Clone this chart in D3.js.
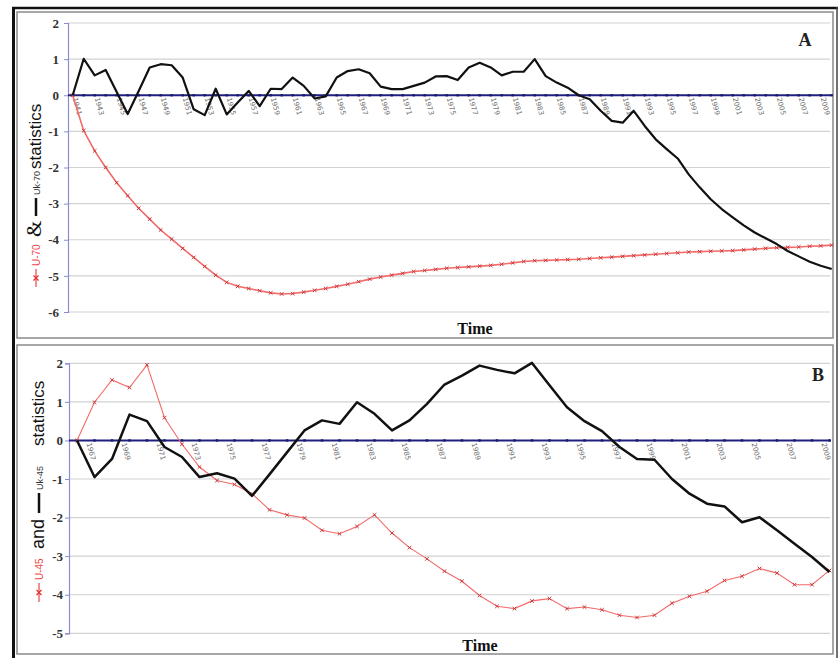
<!DOCTYPE html>
<html>
<head>
<meta charset="utf-8">
<script src="https://cdn.jsdelivr.net/npm/d3@7"></script>
<style>
  html, body { margin: 0; padding: 0; background: #fff; }
  svg { display: block; }
</style>
</head>
<body>
<svg id="chart" width="838" height="658"></svg>
<script>
// ---- Panel A: 1941-2010 ----
const yearsA = d3.range(1941, 2011);
const ukA = [0, 1.01, 0.55, 0.70, 0.09, -0.52, 0.12, 0.77, 0.86, 0.83,
  0.49, -0.39, -0.55, 0.18, -0.53, -0.20, 0.12, -0.30, 0.18, 0.17,
  0.49, 0.26, -0.09, -0.03, 0.49, 0.67, 0.72, 0.61, 0.24, 0.17,
  0.17, 0.26, 0.35, 0.52, 0.53, 0.42, 0.77, 0.90, 0.77, 0.55,
  0.65, 0.65, 1.00, 0.53, 0.35, 0.21, 0.00, -0.11, -0.43, -0.71,
  -0.76, -0.43, -0.85, -1.22, -1.49, -1.75, -2.19, -2.55, -2.88, -3.15,
  -3.38, -3.60, -3.80, -3.96, -4.12, -4.31, -4.46, -4.61, -4.72, -4.81];
const uA = [0, -0.98, -1.54, -2.00, -2.42, -2.78, -3.13, -3.43, -3.73, -3.98,
  -4.24, -4.49, -4.74, -4.98, -5.18, -5.29, -5.35, -5.41, -5.47, -5.50,
  -5.49, -5.45, -5.40, -5.35, -5.29, -5.23, -5.16, -5.09, -5.03, -4.98,
  -4.93, -4.88, -4.85, -4.82, -4.79, -4.77, -4.75, -4.73, -4.71, -4.68,
  -4.64, -4.60, -4.58, -4.57, -4.56, -4.55, -4.54, -4.52, -4.50, -4.48,
  -4.46, -4.44, -4.42, -4.40, -4.38, -4.36, -4.34, -4.33, -4.32, -4.31,
  -4.30, -4.28, -4.26, -4.24, -4.22, -4.21, -4.20, -4.18, -4.17, -4.15];
const yTicksA = [2, 1, 0, -1, -2, -3, -4, -5, -6];
const xLabelsA = yearsA.filter(y => y % 2 === 1);

// ---- Panel B: 1966-2009 ----
const yearsB = d3.range(1966, 2010);
const ukB = [0, -0.95, -0.48, 0.67, 0.50, -0.17, -0.43, -0.95, -0.85, -0.99,
  -1.44, -0.88, -0.31, 0.26, 0.52, 0.43, 0.99, 0.69, 0.26, 0.52,
  0.95, 1.45, 1.68, 1.94, 1.83, 1.74, 2.01, 1.43, 0.86, 0.50,
  0.24, -0.17, -0.48, -0.50, -1.00, -1.38, -1.64, -1.71, -2.12, -1.99,
  -2.33, -2.68, -3.02, -3.41];
const uB = [0, 0.99, 1.57, 1.37, 1.96, 0.59, -0.10, -0.69, -1.04, -1.14,
  -1.38, -1.80, -1.93, -2.01, -2.33, -2.42, -2.23, -1.93, -2.40, -2.78,
  -3.07, -3.39, -3.65, -4.02, -4.30, -4.36, -4.16, -4.10, -4.36, -4.32,
  -4.39, -4.53, -4.59, -4.53, -4.22, -4.04, -3.91, -3.63, -3.52, -3.32,
  -3.44, -3.74, -3.74, -3.37];
const yTicksB = [2, 1, 0, -1, -2, -3, -4, -5];
const xLabelsB = yearsB.filter(y => y % 2 === 1);

const svg = d3.select("#chart");

// outer frame
svg.append("rect").attr("x", 0).attr("y", 0).attr("width", 838).attr("height", 658).attr("fill", "#fff");
svg.append("line").attr("x1", 12).attr("x2", 838).attr("y1", 8).attr("y2", 8)
  .attr("stroke", "#111").attr("stroke-width", 2.5);
svg.append("line").attr("x1", 13.5).attr("x2", 13.5).attr("y1", 7).attr("y2", 658)
  .attr("stroke", "#111").attr("stroke-width", 3);
svg.append("line").attr("x1", 837).attr("x2", 837).attr("y1", 7).attr("y2", 658)
  .attr("stroke", "#444").attr("stroke-width", 1.5);

function panel(cfg) {
  const g = svg.append("g");
  g.append("rect").attr("x", cfg.box[0]).attr("y", cfg.box[1])
    .attr("width", cfg.box[2] - cfg.box[0]).attr("height", cfg.box[3] - cfg.box[1])
    .attr("fill", "#fff").attr("stroke", "#8a8a8a").attr("stroke-width", 1.5);

  const x = d3.scaleLinear().domain(cfg.xDomain).range(cfg.xRange);
  const y = d3.scaleLinear().domain(cfg.yDomain).range(cfg.yRange);
  const left = cfg.axisX, right = 830;

  // horizontal gridlines
  g.append("g").selectAll("line").data(cfg.yTicks.filter(t => t !== 0)).join("line")
    .attr("x1", left).attr("x2", right)
    .attr("y1", d => y(d)).attr("y2", d => y(d))
    .attr("stroke", "#d2d2d2").attr("stroke-width", 1.2);

  // y axis (plain hyphen for negatives)
  const yAxis = d3.axisLeft(y).tickValues(cfg.yTicks).tickSize(4).tickFormat(d => String(d));
  const ya = g.append("g").attr("transform", `translate(${left},0)`).call(yAxis);
  ya.select(".domain").attr("stroke", "#8c8cd0").attr("stroke-width", 1.2);
  ya.selectAll(".tick line").attr("stroke", "#8c8cd0");
  ya.selectAll(".tick text")
    .attr("font-family", "Liberation Serif, serif").attr("font-weight", "bold")
    .attr("font-size", 13).attr("fill", "#333").attr("x", cfg.tickTextX);

  // zero line with dot markers
  g.append("line").attr("x1", left).attr("x2", right + 1)
    .attr("y1", y(0)).attr("y2", y(0)).attr("stroke", "#1f1f80").attr("stroke-width", 2);
  g.append("g").selectAll("rect").data(cfg.years).join("rect")
    .attr("x", d => x(d) - 1.2).attr("y", y(0) - 1.2).attr("width", 2.4).attr("height", 2.4)
    .attr("fill", "#1a1a70");

  // rotated year labels along the zero line
  g.append("g").selectAll("text").data(cfg.xLabels).join("text")
    .attr("transform", d => `translate(${x(d) + cfg.labelDx},${y(0) + 3}) rotate(75)`)
    .attr("font-family", "DejaVu Sans, sans-serif").attr("font-size", 7)
    .attr("fill", "#707070").text(d => d);

  // red series
  const line = d3.line().x((d, i) => x(cfg.years[i])).y(d => y(d));
  g.append("path").datum(cfg.red).attr("d", line).attr("fill", "none")
    .attr("stroke", "#f26a6a").attr("stroke-width", cfg.redWidth);
  g.append("g").selectAll("path").data(cfg.red).join("path")
    .attr("d", (d, i) => {
      const cx = x(cfg.years[i]), cy = y(d), r = 1.8;
      return `M${cx - r},${cy - r}L${cx + r},${cy + r}M${cx - r},${cy + r}L${cx + r},${cy - r}`;
    })
    .attr("stroke", "#c83a3a").attr("stroke-width", 1);

  // black series
  g.append("path").datum(cfg.black).attr("d", line).attr("fill", "none")
    .attr("stroke", "#111").attr("stroke-width", cfg.blackWidth).attr("stroke-linejoin", "round");

  // panel letter
  g.append("text").attr("x", cfg.letterPos[0]).attr("y", cfg.letterPos[1])
    .attr("text-anchor", "middle").attr("font-family", "Liberation Serif, serif")
    .attr("font-weight", "bold").attr("font-size", 18).attr("fill", "#222").text(cfg.letter);

  // x title
  g.append("text").attr("x", cfg.timePos[0]).attr("y", cfg.timePos[1])
    .attr("text-anchor", "middle").attr("font-family", "Liberation Serif, serif")
    .attr("font-weight", "bold").attr("font-size", 16).attr("fill", "#111").text("Time");

  // y title with inline legend symbols (rotated, reading bottom to top)
  const t = g.append("g").attr("transform", `translate(${cfg.titleOrigin[0]},${cfg.titleOrigin[1]}) rotate(-90)`);
  const L = cfg.titleLayout;
  t.append("line").attr("x1", L.redSym[0]).attr("x2", L.redSym[1]).attr("y1", -5).attr("y2", -5)
    .attr("stroke", "#f26a6a").attr("stroke-width", 1.5);
  const mx = (L.redSym[0] + L.redSym[1]) / 2;
  t.append("path").attr("d", `M${mx - 2.5},-7.5L${mx + 2.5},-2.5M${mx - 2.5},-2.5L${mx + 2.5},-7.5`)
    .attr("stroke", "#e03030").attr("stroke-width", 1.2);
  t.append("text").attr("x", L.redText).attr("y", -1)
    .attr("font-family", "Liberation Sans, sans-serif").attr("font-size", 10)
    .attr("fill", "#f04848").text(cfg.redName);
  t.append("text").attr("x", L.conj).attr("y", 0)
    .attr("font-family", cfg.conjFont).attr("font-size", cfg.conjSize)
    .attr("fill", "#111").text(cfg.conj);
  t.append("line").attr("x1", L.blackSym[0]).attr("x2", L.blackSym[1]).attr("y1", -5).attr("y2", -5)
    .attr("stroke", "#111").attr("stroke-width", 2.5);
  t.append("text").attr("x", L.blackText).attr("y", -1)
    .attr("font-family", "Liberation Sans, sans-serif").attr("font-size", 9)
    .attr("fill", "#333").text(cfg.blackName);
  t.append("text").attr("x", L.stat).attr("y", 0)
    .attr("font-family", "Liberation Sans, sans-serif").attr("font-size", 17)
    .attr("fill", "#111").text("statistics");
}

panel({
  box: [17, 12, 833, 338],
  xDomain: [1941, 2010], xRange: [72.7, 831.7],
  yDomain: [-6, 2], yRange: [312, 23],
  axisX: 68, tickTextX: -9,
  years: yearsA, xLabels: xLabelsA, labelDx: 0,
  yTicks: yTicksA,
  red: uA, black: ukA, redWidth: 1.6, blackWidth: 2.2,
  letter: "A", letterPos: [805, 46],
  timePos: [475, 334],
  titleOrigin: [41, 289],
  redName: "U-70", blackName: "Uk-70", conj: "&",
  conjFont: "Liberation Serif, serif", conjSize: 21,
  titleLayout: { redSym: [2, 20], redText: 23, conj: 52, blackSym: [73, 91], blackText: 94, stat: 120 }
});

panel({
  box: [17, 345, 833, 654],
  xDomain: [1966, 2009], xRange: [77, 829.5],
  yDomain: [-5, 2], yRange: [633.3, 363.3],
  axisX: 69, tickTextX: -6,
  years: yearsB, xLabels: xLabelsB, labelDx: -8,
  yTicks: yTicksB,
  red: uB, black: ukB, redWidth: 1.1, blackWidth: 2.5,
  letter: "B", letterPos: [818, 381],
  timePos: [480, 651],
  titleOrigin: [44, 604],
  redName: "U-45", blackName: "Uk-45", conj: "and",
  conjFont: "Liberation Sans, sans-serif", conjSize: 18,
  titleLayout: { redSym: [2, 21], redText: 24, conj: 55, blackSym: [91, 111], blackText: 114, stat: 158 }
});
</script>
</body>
</html>
